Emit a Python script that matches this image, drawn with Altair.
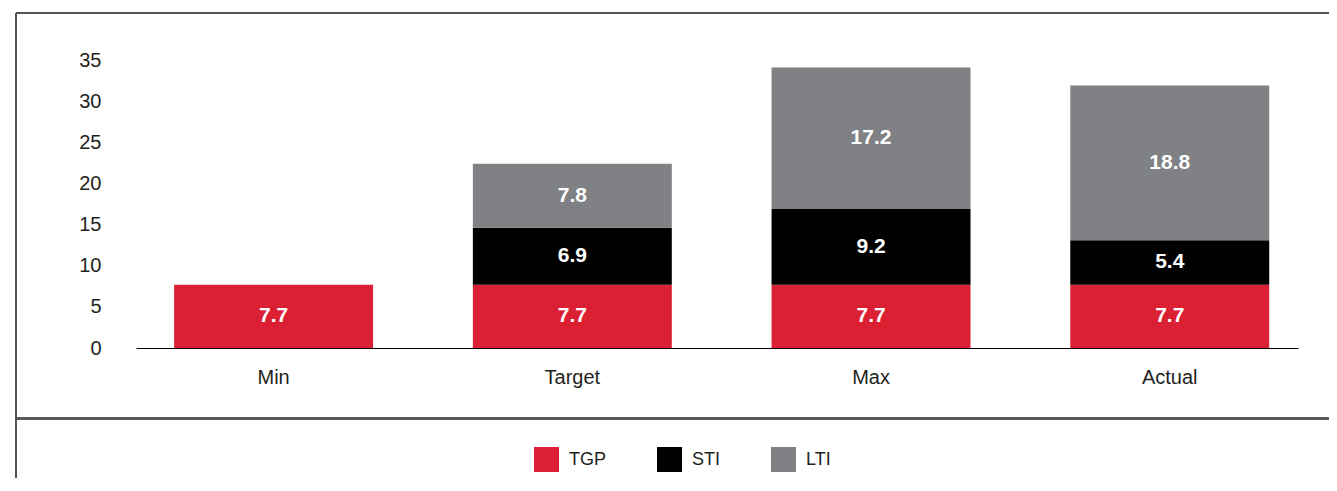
import altair as alt
import pandas as pd

categories = ["Min", "Target", "Max", "Actual"]
components = ["TGP", "STI", "LTI"]
tgp = [7.7, 7.7, 7.7, 7.7]
sti = [None, 6.9, 9.2, 5.4]
lti = [None, 7.8, 17.2, 18.8]
colors = ["#DB2033", "#000000", "#808184"]
y_ticks = [0, 5, 10, 15, 20, 25, 30, 35]

rows = []
for i, c in enumerate(categories):
    for k, (name, series) in enumerate(zip(components, [tgp, sti, lti])):
        v = series[i]
        if v is not None:
            rows.append({"cat": c, "comp": name, "value": v, "order": k, "label": f"{v:.1f}"})
df = pd.DataFrame(rows)

FONT = "Liberation Sans"
W, H = 1162, 288

base = alt.Chart(df).transform_stack(
    stack="value", groupby=["cat"], as_=["y0", "y1"], sort=[alt.SortField("order")]
).transform_calculate(mid="(datum.y0 + datum.y1) / 2")

x_enc = alt.X(
    "cat:N", sort=categories, title=None,
    scale=alt.Scale(paddingInner=0.334, paddingOuter=0.112, align=0.57),
    axis=alt.Axis(labelAngle=0, ticks=False, domain=True, domainColor="#000000",
                  domainWidth=1, labelFontSize=20, labelColor="#231F20",
                  labelFont=FONT, labelPadding=19, grid=False),
)

bars = base.mark_bar().encode(
    x=x_enc,
    y=alt.Y("y0:Q", title=None,
            scale=alt.Scale(domain=[0, 35], nice=False),
            axis=alt.Axis(values=y_ticks, ticks=False, domain=False, grid=False,
                          labelFontSize=20, labelColor="#231F20", labelFont=FONT,
                          labelPadding=35)),
    y2="y1:Q",
    color=alt.Color("comp:N", sort=components,
                    scale=alt.Scale(domain=components, range=colors),
                    legend=alt.Legend(title=None, orient="none", direction="horizontal",
                                      legendX=398, legendY=387, symbolType="square",
                                      symbolSize=625, symbolStrokeWidth=0,
                                      labelFontSize=18, labelFont=FONT, labelColor="#231F20",
                                      labelOffset=10, columnPadding=50, padding=0,
                                      symbolOpacity=1)),
    order=alt.Order("order:Q"),
)

texts = base.mark_text(color="white", fontWeight="bold", fontSize=21, font=FONT,
                       baseline="middle", align="center").encode(
    x=alt.X("cat:N", sort=categories),
    y=alt.Y("mid:Q"),
    text="label:N",
)

line_color = "#555555"
top_line = alt.Chart(df).mark_rule(color=line_color, strokeWidth=1.5).encode(
    x=alt.value(-120), x2=alt.value(1260), y=alt.value(-47))
left_line = alt.Chart(df).mark_rule(color=line_color, strokeWidth=1.5).encode(
    x=alt.value(-120), y=alt.value(-47), y2=alt.value(460))
sep_line = alt.Chart(df).mark_rule(color=line_color, strokeWidth=1.5).encode(
    x=alt.value(-120), x2=alt.value(1260), y=alt.value(358.5))

chart = alt.layer(bars, texts, top_line, left_line, sep_line).properties(
    width=W, height=H,
    autosize=alt.AutoSizeParams(type="none"),
    padding={"left": 128, "top": 52, "right": 31, "bottom": 130},
).configure(font=FONT).configure_view(strokeWidth=0, stroke="transparent")

chart.save("out.html", embed_options={"renderer": "svg", "actions": False})
